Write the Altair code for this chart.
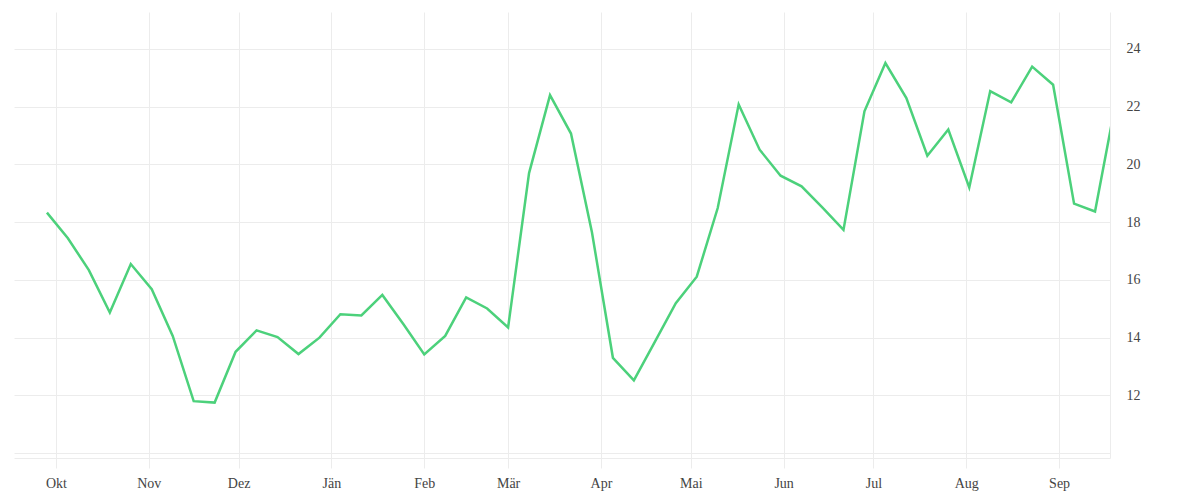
import altair as alt
import pandas as pd

# weekly observations
week_starts = pd.date_range("2022-09-28", periods=52, freq="7D")
values = [18.33, 17.44, 16.34, 14.87, 16.55, 15.68, 14.06, 11.80, 11.75, 13.51,
          14.25, 14.02, 13.43, 14.00, 14.81, 14.77, 15.48, 14.47, 13.42, 14.06,
          15.39, 15.01, 14.35, 19.70, 22.40, 21.07, 17.65, 13.30, 12.52, 13.85,
          15.19, 16.11, 18.49, 22.08, 20.51, 19.61, 19.24, 18.50, 17.73, 21.84,
          23.51, 22.30, 20.30, 21.21, 19.20, 22.54, 22.15, 23.39, 22.76, 18.64,
          18.37, 22.20]

month_labels = ["Jän", "Feb", "Mär", "Apr", "Mai", "Jun",
                "Jul", "Aug", "Sep", "Okt", "Nov", "Dez"]
month_ticks = [(2022, 10), (2022, 11), (2022, 12), (2023, 1), (2023, 2), (2023, 3),
               (2023, 4), (2023, 5), (2023, 6), (2023, 7), (2023, 8), (2023, 9)]
y_ticks = [10, 12, 14, 16, 18, 20, 22, 24]
y_labels_shown = [12, 14, 16, 18, 20, 22, 24]

df = pd.DataFrame({"date": week_starts, "value": values})

label_js = "[" + ",".join("'" + m + "'" for m in month_labels) + "][month(datum.value)]"
y_label_js = "indexof([" + ",".join(str(v) for v in y_labels_shown) + "], datum.value) >= 0 ? datum.label : ''"

grid_color = "#ececec"
font = "Liberation Serif"

chart = alt.Chart(df).mark_line(color="#4cd17b", strokeWidth=2.5, clip=True).encode(
    x=alt.X(
        "date:T",
        scale=alt.Scale(domain=[alt.DateTime(year=2022, month=9, date=17),
                                alt.DateTime(year=2023, month=9, date=18)]),
        axis=alt.Axis(
            title=None,
            values=[alt.DateTime(year=y, month=m, date=1) for y, m in month_ticks],
            labelExpr=label_js,
            grid=True, gridColor=grid_color,
            domain=True, domainColor=grid_color,
            ticks=True, tickColor=grid_color, tickSize=10,
            labelPadding=8, labelFont=font, labelFontSize=14, labelColor="#444444",
        ),
    ),
    y=alt.Y(
        "value:Q",
        scale=alt.Scale(domain=[9.83, 25.28], nice=False, zero=False),
        axis=alt.Axis(
            title=None, orient="right",
            values=y_ticks, labelExpr=y_label_js,
            grid=True, gridColor=grid_color,
            domain=True, domainColor=grid_color,
            ticks=False, labelPadding=16,
            labelFont=font, labelFontSize=14, labelColor="#444444",
        ),
    ),
).properties(
    width=1096, height=446,
    padding={"left": 6, "top": 4, "right": 70, "bottom": 40},
    autosize=alt.AutoSizeParams(type="none"),
).configure_view(stroke=None)

chart.save("out.html", embed_options={"renderer": "svg", "actions": False})
